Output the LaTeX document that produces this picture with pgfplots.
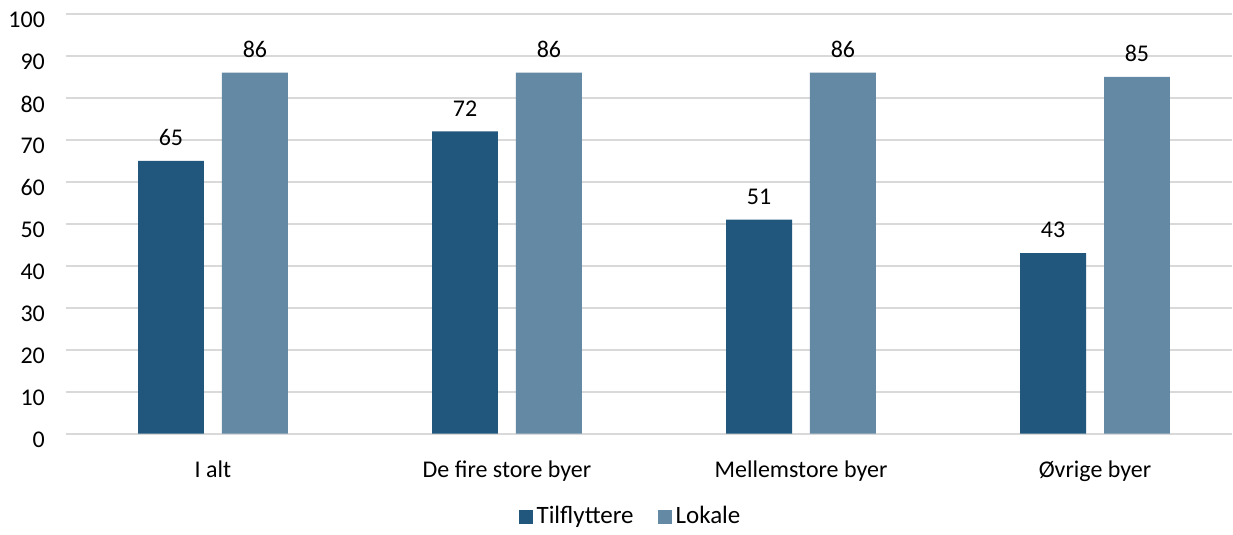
\documentclass[border=0pt]{standalone}
\usepackage{fontspec}
\setmainfont{Carlito}
\usepackage{pgfplots}
\pgfplotsset{compat=1.18}
\definecolor{darkblue}{HTML}{22577D}
\definecolor{lightblue}{HTML}{6489A5}
\definecolor{gridgrey}{HTML}{D9D9D9}
\begin{document}
\begin{tikzpicture}
  \path (0,0) rectangle (616.5pt,265.5pt);
  \begin{axis}[
      at={(33pt,48.5pt)}, anchor=south west,
      scale only axis,
      width=583.5pt, height=210pt,
      ybar,
      ymin=0, ymax=100,
      ytick={0,10,...,100},
      xmin=-0.5, xmax=3.466,
      xtick={0,1,2,3},
      xticklabels={I alt, De fire store byer, Mellemstore byer, Øvrige byer},
      axis line style={draw=none},
      major tick length=0pt,
      ymajorgrids,
      grid style={gridgrey, line width=1pt},
      /pgf/number format/assume math mode=true,
      tick label style={font=\fontsize{12}{14}\selectfont},
      yticklabel style={xshift=-7pt, yshift=-3pt},
      xticklabel style={yshift=-10pt},
      bar width=33pt,
      nodes near coords,
      nodes near coords style={font=\fontsize{12}{14}\selectfont, anchor=south, yshift=4pt, text=black},
      legend style={draw=none, at={(0.485,-0.198)}, anchor=center, legend columns=-1,
        font=\fontsize{12.5}{14}\selectfont, /tikz/every even column/.append style={column sep=10pt}},
      legend image code/.code={\fill[#1] (0pt,-3.5pt) rectangle (7pt,3.5pt);},
    ]
    \addplot[fill=darkblue, draw=none, bar shift=-21pt] coordinates {(0,65) (1,72) (2,51) (3,43)};
    \addlegendentry{Tilflyttere}
    \addplot[fill=lightblue, draw=none, bar shift=21pt] coordinates {(0,86) (1,86) (2,86) (3,85)};
    \addlegendentry{Lokale}
  \end{axis}
\end{tikzpicture}
\end{document}
